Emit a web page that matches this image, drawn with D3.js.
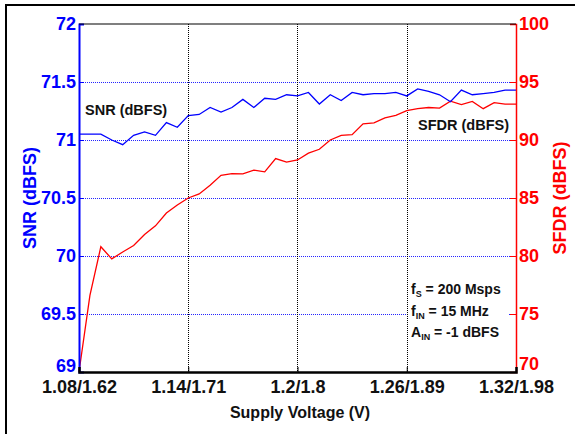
<!DOCTYPE html>
<html>
<head>
<meta charset="utf-8">
<script src="https://cdn.jsdelivr.net/npm/d3@7"></script>
<style>
  html, body { margin: 0; padding: 0; background: #fff; }
  svg { display: block; font-family: "Liberation Sans", Arial, sans-serif; font-weight: bold; }
</style>
</head>
<body>
<svg id="chart" width="575" height="434"></svg>
<script>
// Core supply / IO supply sweep (first value of each pair used for position)
const voltages = [1.080, 1.086, 1.092, 1.098, 1.104, 1.110, 1.116, 1.122, 1.128, 1.134,
                  1.140, 1.146, 1.152, 1.158, 1.164, 1.170, 1.176, 1.182, 1.188, 1.194,
                  1.200, 1.206, 1.212, 1.218, 1.224, 1.230, 1.236, 1.242, 1.248, 1.254,
                  1.260, 1.266, 1.272, 1.278, 1.284, 1.290, 1.296, 1.302, 1.308, 1.314,
                  1.320];

// Measured SNR (dBFS)
const snr = [71.05, 71.05, 71.05, 71.00, 70.96, 71.04, 71.07, 71.04, 71.15, 71.11,
             71.21, 71.22, 71.28, 71.24, 71.28, 71.35, 71.28, 71.36, 71.35, 71.39,
             71.38, 71.41, 71.31, 71.39, 71.34, 71.41, 71.39, 71.40, 71.40, 71.41,
             71.38, 71.44, 71.42, 71.39, 71.33, 71.43, 71.39, 71.40, 71.41, 71.43,
             71.43];

// Measured SFDR (dBFS)
const sfdr = [70.0, 76.6, 80.8, 79.75, 80.35, 80.9, 81.85, 82.6, 83.7, 84.4,
              85.0, 85.35, 86.1, 86.95, 87.1, 87.08, 87.4, 87.25, 88.4, 88.1,
              88.28, 88.87, 89.2, 90.0, 90.4, 90.46, 91.4, 91.47, 91.9, 92.13,
              92.53, 92.7, 92.8, 92.75, 93.35, 93.05, 93.33, 92.7, 93.22, 93.1,
              93.1];

const xTicks = [1.08, 1.14, 1.2, 1.26, 1.32];
const xTickLabels = ["1.08/1.62", "1.14/1.71", "1.2/1.8", "1.26/1.89", "1.32/1.98"];
const snrTicks = [69, 69.5, 70, 70.5, 71, 71.5, 72];
const sfdrTicks = [70, 75, 80, 85, 90, 95, 100];
const notes = [["f", "S", " = 200 Msps"], ["f", "IN", " = 15 MHz"], ["A", "IN", " = -1 dBFS"]];

const BLUE = "#0000ff", RED = "#ff0000";
const plot = { left: 79, right: 516, top: 24, bottom: 372 };

const svg = d3.select("#chart");

// outer frame
svg.append("rect")
  .attr("x", 6).attr("y", 5).attr("width", 600).attr("height", 460)
  .attr("fill", "#fff").attr("stroke", "#000").attr("stroke-width", 2);

const x = d3.scaleLinear().domain([1.08, 1.32]).range([plot.left, plot.right]);
const ySnr = d3.scaleLinear().domain([69, 72]).range([plot.bottom, plot.top]);
const ySfdr = d3.scaleLinear().domain([70, 100]).range([plot.bottom, plot.top]);

// horizontal grid (blue dotted)
svg.append("g")
  .selectAll("line")
  .data(snrTicks.filter(d => d > 69 && d < 72))
  .join("line")
  .attr("x1", plot.left).attr("x2", plot.right)
  .attr("y1", d => ySnr(d) + 0.5).attr("y2", d => ySnr(d) + 0.5)
  .attr("stroke", BLUE).attr("stroke-width", 1)
  .attr("stroke-dasharray", "1,1").attr("opacity", 0.85);

// vertical grid (black dotted)
svg.append("g")
  .selectAll("line")
  .data(xTicks.slice(1, -1))
  .join("line")
  .attr("x1", d => Math.round(x(d)) + 0.5).attr("x2", d => Math.round(x(d)) + 0.5)
  .attr("y1", plot.top).attr("y2", plot.bottom)
  .attr("stroke", "#000").attr("stroke-width", 1)
  .attr("stroke-dasharray", "1,1");

// annotation box
const noteG = svg.append("g");
noteG.append("rect")
  .attr("x", 409).attr("y", 279).attr("width", 99).attr("height", 66)
  .attr("fill", "#fff");

// data lines
const snrLine = d3.line().x((d, i) => x(voltages[i])).y(d => ySnr(d));
const sfdrLine = d3.line().x((d, i) => x(voltages[i])).y(d => ySfdr(d));

svg.append("path").datum(sfdr)
  .attr("d", sfdrLine).attr("fill", "none")
  .attr("stroke", RED).attr("stroke-width", 1.3);
svg.append("path").datum(snr)
  .attr("d", snrLine).attr("fill", "none")
  .attr("stroke", BLUE).attr("stroke-width", 1.3);

// axes
const axLeft = svg.append("g")
  .attr("transform", `translate(${plot.left},0)`)
  .call(d3.axisLeft(ySnr).tickValues(snrTicks).tickSize(-5).tickPadding(3)
        .tickFormat(d => String(d)));
axLeft.select(".domain").attr("stroke", BLUE).attr("stroke-width", 2);
axLeft.selectAll(".tick line").attr("stroke", BLUE);
axLeft.selectAll(".tick text")
  .attr("fill", BLUE).attr("font-size", 18).attr("font-family", "Liberation Sans, Arial, sans-serif")
  .attr("font-weight", "bold")
  .attr("dy", d => d === 69 ? "-0.05em" : "0.32em");

const axRight = svg.append("g")
  .attr("transform", `translate(${plot.right},0)`)
  .call(d3.axisRight(ySfdr).tickValues(sfdrTicks).tickSize(-6).tickPadding(3)
        .tickFormat(d => String(d)));
axRight.select(".domain").attr("stroke", RED).attr("stroke-width", 1.5);
axRight.selectAll(".tick line").attr("stroke", RED);
axRight.selectAll(".tick text")
  .attr("fill", RED).attr("font-size", 18).attr("font-family", "Liberation Sans, Arial, sans-serif")
  .attr("font-weight", "bold")
  .attr("dy", d => d === 70 ? "-0.12em" : "0.32em");

svg.append("line")
  .attr("x1", plot.left).attr("x2", plot.right)
  .attr("y1", plot.top).attr("y2", plot.top)
  .attr("stroke", "#000").attr("stroke-width", 1.2);

const axBottom = svg.append("g")
  .attr("transform", `translate(0,${plot.bottom})`)
  .call(d3.axisBottom(x).tickValues(xTicks).tickSize(-5).tickPadding(8)
        .tickFormat((d, i) => xTickLabels[i]));
axBottom.select(".domain").attr("stroke", "#000").attr("stroke-width", 2.5);
axBottom.selectAll(".tick line").attr("stroke", "#000");
axBottom.selectAll(".tick text")
  .attr("fill", "#111").attr("font-size", 18).attr("font-family", "Liberation Sans, Arial, sans-serif")
  .attr("font-weight", "bold");

// axis titles
svg.append("text")
  .attr("transform", `translate(36,198) rotate(-90)`)
  .attr("text-anchor", "middle")
  .attr("fill", BLUE).attr("font-size", 18)
  .text("SNR (dBFS)");

svg.append("text")
  .attr("transform", `translate(566,198) rotate(-90)`)
  .attr("text-anchor", "middle")
  .attr("fill", RED).attr("font-size", 18)
  .text("SFDR (dBFS)");

svg.append("text")
  .attr("x", 300).attr("y", 418)
  .attr("text-anchor", "middle")
  .attr("fill", "#111").attr("font-size", 16)
  .text("Supply Voltage (V)");

// series labels
svg.append("text")
  .attr("x", 85).attr("y", 115)
  .attr("fill", "#111").attr("font-size", 14.5)
  .text("SNR (dBFS)");

svg.append("text")
  .attr("x", 418).attr("y", 130)
  .attr("fill", "#111").attr("font-size", 14.5)
  .text("SFDR (dBFS)");

// test conditions
const noteY = [294, 316, 337];
notes.forEach((n, i) => {
  const t = noteG.append("text")
    .attr("x", 411).attr("y", noteY[i])
    .attr("fill", "#111").attr("font-size", 14);
  t.append("tspan").text(n[0]);
  t.append("tspan").attr("font-size", 9).attr("dy", 3).text(n[1]);
  t.append("tspan").attr("dy", -3).text(n[2]);
});
</script>
</body>
</html>
